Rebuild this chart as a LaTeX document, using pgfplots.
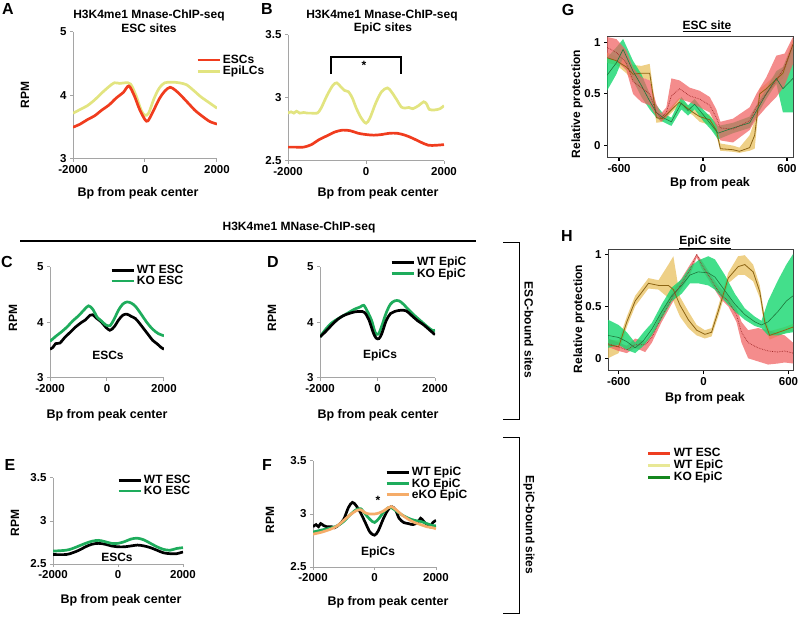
\documentclass[border=0pt]{standalone}
\usepackage{fontspec}
\setmainfont{Liberation Sans}
\usepackage{pgfplots}
\usepackage{pgfplotstable}
\pgfplotsset{compat=1.18}

\definecolor{cred}{RGB}{240,60,30}
\definecolor{cyel}{RGB}{226,228,128}
\definecolor{cgrn}{RGB}{30,172,92}
\definecolor{corg}{RGB}{245,172,105}
\definecolor{axgray}{RGB}{165,165,165}
\definecolor{bred}{RGB}{240,95,95}
\definecolor{byel}{RGB}{232,192,95}
\definecolor{bgrn}{RGB}{20,215,110}
\definecolor{lred}{RGB}{160,40,40}
\definecolor{lyel}{RGB}{140,100,20}
\definecolor{lgrn}{RGB}{30,120,60}
\definecolor{legred}{RGB}{238,62,32}
\definecolor{legyel}{RGB}{232,232,150}
\definecolor{leggrn}{RGB}{20,135,30}

% ---------- Panel A ----------
\pgfplotstableread{
x y
-2000 3.50
-1800 3.55
-1600 3.62
-1400 3.68
-1200 3.77
-1000 3.85
-800 3.96
-600 4.05
-450 4.15
-300 4.00
-150 3.78
0 3.62
80 3.60
200 3.72
400 3.95
550 4.07
700 4.13
850 4.08
1000 4.00
1200 3.88
1400 3.76
1600 3.67
1800 3.59
2000 3.55
}\Ared
\pgfplotstableread{
x y
-2000 3.72
-1800 3.78
-1600 3.84
-1400 3.93
-1200 4.04
-1000 4.14
-850 4.20
-700 4.19
-550 4.20
-400 4.18
-250 4.00
-100 3.76
0 3.69
100 3.72
250 3.95
400 4.12
550 4.20
750 4.21
950 4.20
1150 4.17
1350 4.08
1550 3.98
1800 3.88
2000 3.80
}\Ayel
% ---------- Panel B ----------
\pgfplotstableread{
x y
-2000 2.61
-1800 2.61
-1600 2.61
-1400 2.63
-1200 2.67
-1000 2.70
-800 2.73
-600 2.745
-400 2.74
-200 2.72
0 2.71
200 2.705
400 2.71
600 2.72
800 2.72
1000 2.705
1200 2.68
1400 2.65
1600 2.625
1800 2.625
2000 2.63
}\Bred
\pgfplotstableread{
x y
-2000 2.88
-1920 2.89
-1850 2.88
-1780 2.895
-1700 2.88
-1600 2.885
-1500 2.88
-1400 2.88
-1250 2.88
-1150 2.92
-1000 3.02
-850 3.10
-750 3.12
-650 3.09
-550 3.06
-450 3.05
-350 3.00
-250 2.92
-120 2.84
0 2.80
100 2.84
250 2.96
400 3.05
550 3.08
650 3.05
800 2.98
900 2.93
1000 2.92
1100 2.925
1200 2.915
1350 2.94
1480 2.97
1560 2.95
1620 2.91
1750 2.905
1900 2.915
2000 2.94
}\Byel
% ---------- Panel C ----------
\pgfplotstableread{
x y
-2000 3.52
-1900 3.55
-1800 3.62
-1650 3.63
-1500 3.72
-1300 3.82
-1100 3.92
-900 4.00
-750 4.05
-600 4.13
-500 4.14
-350 4.07
-200 4.01
-50 3.92
100 3.86
250 3.92
400 4.04
550 4.13
700 4.15
850 4.11
1000 4.07
1150 3.98
1300 3.88
1450 3.78
1600 3.68
1750 3.62
1900 3.55
2000 3.52
}\Cwt
\pgfplotstableread{
x y
-2000 3.66
-1800 3.75
-1600 3.83
-1400 3.92
-1200 4.03
-1000 4.12
-800 4.23
-650 4.30
-500 4.24
-350 4.10
-200 4.03
-50 3.96
100 3.94
250 4.06
400 4.22
550 4.33
700 4.37
850 4.35
1000 4.29
1200 4.15
1400 4.00
1600 3.88
1800 3.80
2000 3.76
}\Cko
% ---------- Panel D ----------
\pgfplotstableread{
x y
-2000 3.74
-1800 3.84
-1600 3.95
-1400 4.05
-1200 4.12
-1000 4.16
-800 4.19
-600 4.20
-450 4.18
-300 4.05
-150 3.82
-50 3.72
50 3.71
150 3.80
300 4.03
450 4.16
600 4.20
800 4.22
1000 4.21
1200 4.12
1400 4.03
1600 3.96
1800 3.87
2000 3.78
}\Dwt
\pgfplotstableread{
x y
-2000 3.74
-1800 3.88
-1600 3.99
-1400 4.06
-1200 4.12
-1000 4.18
-800 4.24
-600 4.28
-480 4.31
-350 4.20
-200 4.03
-80 3.82
30 3.79
150 3.94
300 4.17
450 4.33
600 4.39
750 4.39
900 4.33
1100 4.22
1300 4.12
1500 4.03
1700 3.94
1900 3.86
2000 3.86
}\Dko
% ---------- Panel E ----------
\pgfplotstableread{
x y
-2000 2.61
-1600 2.61
-1400 2.63
-1200 2.66
-1000 2.70
-800 2.73
-600 2.74
-400 2.73
-200 2.71
0 2.70
200 2.70
400 2.71
600 2.72
800 2.71
1000 2.69
1200 2.66
1400 2.63
1600 2.62
1800 2.62
2000 2.64
}\Ewt
\pgfplotstableread{
x y
-2000 2.65
-1600 2.66
-1400 2.68
-1200 2.71
-1000 2.74
-800 2.765
-600 2.775
-400 2.76
-200 2.74
0 2.74
200 2.76
400 2.79
600 2.80
800 2.78
1000 2.74
1200 2.70
1400 2.67
1600 2.66
1800 2.68
2000 2.69
}\Eko
% ---------- Panel F ----------
\pgfplotstableread{
x y
-2000 2.88
-1900 2.90
-1820 2.88
-1750 2.91
-1650 2.89
-1550 2.88
-1400 2.88
-1300 2.87
-1150 2.90
-1000 2.95
-850 3.06
-720 3.11
-600 3.08
-450 3.01
-300 2.92
-150 2.83
0 2.80
120 2.84
280 2.95
420 3.03
550 3.07
680 3.04
800 2.96
950 2.92
1100 2.91
1250 2.90
1400 2.92
1500 2.96
1600 2.93
1700 2.90
1800 2.88
1900 2.92
2000 2.94
}\Fwt
\pgfplotstableread{
x y
-2000 2.83
-1700 2.85
-1400 2.87
-1200 2.89
-1000 2.93
-800 2.99
-600 3.04
-450 3.05
-300 3.00
-150 2.95
0 2.92
150 2.96
300 3.02
450 3.06
550 3.06
700 3.03
900 2.99
1100 2.96
1300 2.94
1500 2.93
1700 2.91
1900 2.89
2000 2.89
}\Fko
\pgfplotstableread{
x y
-2000 2.81
-1700 2.83
-1400 2.86
-1200 2.89
-1000 2.94
-800 2.99
-600 3.03
-450 3.04
-300 3.01
-150 3.00
0 3.00
150 3.01
300 3.03
450 3.06
550 3.07
700 3.04
900 2.99
1100 2.95
1300 2.92
1500 2.90
1700 2.88
1900 2.87
2000 2.86
}\Feko
% ---------- Panel G: centre lines ----------
\pgfplotstableread{
x y
-686 0.95
-619 0.90
-548 0.80
-500 0.62
-440 0.56
-381 0.50
-333 0.32
-300 0.27
-262 0.32
-226 0.48
-167 0.55
-95 0.48
-24 0.45
48 0.39
95 0.27
124 0.17
214 0.16
333 0.24
381 0.37
452 0.50
524 0.63
583 0.76
643 0.98
}\Gred
\pgfplotstableread{
x y
-686 0.85
-619 0.82
-548 0.76
-500 0.69
-440 0.70
-381 0.70
-333 0.27
-290 0.26
-230 0.34
-170 0.42
-120 0.37
-70 0.32
-24 0.28
48 0.25
95 0.15
124 -0.03
214 -0.04
260 -0.055
333 -0.02
369 0.10
405 0.50
452 0.55
571 0.70
643 0.98
}\Gyel
\pgfplotstableread{
x y
-686 0.68
-619 0.80
-571 0.93
-500 0.72
-440 0.58
-381 0.43
-333 0.32
-286 0.27
-226 0.23
-155 0.41
-107 0.34
-60 0.40
0 0.30
60 0.20
107 0.12
214 0.17
333 0.22
452 0.50
524 0.65
571 0.55
643 0.65
}\Ggrn
% ---------- Panel G: bands (upper edge left to right, lower edge right to left) ----------
\pgfplotstableread{
x y
-686 1.05
-619 1.03
-548 0.92
-500 0.75
-440 0.66
-381 0.63
-333 0.40
-300 0.31
-262 0.37
-226 0.65
-167 0.63
-95 0.56
-24 0.53
48 0.47
95 0.35
124 0.23
214 0.26
333 0.37
381 0.50
452 0.66
524 0.87
583 0.89
643 1.05
643 0.79
583 0.58
524 0.47
452 0.37
381 0.26
333 0.15
214 0.03
124 0.05
95 0.19
48 0.32
-24 0.37
-95 0.42
-167 0.45
-226 0.35
-262 0.27
-300 0.23
-333 0.28
-381 0.39
-440 0.42
-500 0.50
-548 0.73
-619 0.82
-686 0.85
}\GredB
\pgfplotstableread{
x y
-686 0.90
-619 0.86
-548 0.82
-500 0.78
-440 0.77
-381 0.79
-333 0.32
-290 0.29
-230 0.37
-170 0.46
-120 0.40
-70 0.35
-24 0.32
48 0.30
95 0.20
124 0.02
214 0.00
260 -0.02
333 0.10
369 0.24
405 0.55
452 0.60
571 0.75
643 1.03
643 0.93
571 0.65
452 0.50
405 0.45
369 -0.03
333 -0.05
260 -0.07
214 -0.06
124 -0.05
95 0.10
48 0.20
-24 0.23
-70 0.29
-120 0.34
-170 0.39
-230 0.31
-290 0.23
-333 0.22
-381 0.63
-440 0.66
-500 0.62
-548 0.70
-619 0.78
-686 0.80
}\GyelB
\pgfplotstableread{
x y
-686 0.85
-619 0.95
-571 1.03
-500 0.82
-440 0.69
-381 0.50
-333 0.39
-286 0.31
-226 0.27
-155 0.47
-107 0.39
-60 0.45
0 0.35
60 0.27
107 0.19
214 0.22
333 0.28
452 0.55
524 0.72
571 0.76
643 0.98
643 0.32
571 0.32
524 0.60
452 0.45
333 0.17
214 0.12
107 0.06
60 0.15
0 0.24
-60 0.35
-107 0.29
-155 0.35
-226 0.19
-286 0.23
-333 0.27
-381 0.35
-440 0.47
-500 0.63
-571 0.85
-619 0.69
-686 0.53
}\GgrnB
% ---------- Panel H: centre lines ----------
\pgfplotstableread{
x y
-676 0.14
-601 0.11
-543 0.08
-484 0.13
-413 0.13
-366 0.20
-296 0.40
-214 0.60
-155 0.72
-96 0.85
-49 1.00
-14 0.90
56 0.75
115 0.62
174 0.55
232 0.42
268 0.25
315 0.15
385 0.10
456 0.07
526 0.06
573 0.07
632 0.05
}\Hred
\pgfplotstableread{
x y
-676 0.13
-601 0.11
-543 0.35
-484 0.55
-390 0.72
-319 0.70
-249 0.70
-214 0.66
-167 0.51
-108 0.37
-49 0.27
9 0.23
56 0.25
103 0.45
174 0.77
244 0.88
291 0.90
350 0.83
397 0.64
432 0.35
467 0.22
573 0.27
632 0.30
}\Hyel
\pgfplotstableread{
x y
-676 0.22
-601 0.20
-543 0.16
-484 0.10
-425 0.17
-366 0.28
-296 0.45
-225 0.60
-155 0.70
-96 0.80
-38 0.83
33 0.82
80 0.78
150 0.65
221 0.52
291 0.42
362 0.35
409 0.32
456 0.35
526 0.45
585 0.55
632 0.60
}\Hgrn
% ---------- Panel H: bands ----------
\pgfplotstableread{
x y
-676 0.19
-601 0.15
-543 0.12
-484 0.19
-413 0.16
-366 0.25
-296 0.45
-214 0.65
-155 0.77
-96 0.90
-49 1.00
-14 0.94
56 0.79
115 0.68
174 0.60
232 0.48
268 0.35
315 0.27
385 0.29
456 0.27
526 0.24
573 0.22
632 0.15
632 -0.05
573 -0.04
526 -0.05
456 -0.06
385 -0.03
315 0.00
268 0.15
232 0.35
174 0.50
115 0.58
56 0.71
-14 0.86
-49 0.97
-96 0.80
-155 0.67
-214 0.55
-296 0.35
-366 0.15
-413 0.06
-484 0.10
-543 0.05
-601 0.07
-676 0.11
}\HredB
\pgfplotstableread{
x y
-676 0.18
-601 0.17
-543 0.40
-484 0.60
-390 0.77
-319 0.75
-249 0.90
-214 0.98
-167 0.59
-108 0.45
-49 0.32
9 0.27
56 0.29
103 0.50
174 0.82
244 0.98
291 0.99
350 0.90
397 0.70
432 0.40
467 0.26
573 0.30
632 0.33
632 0.27
573 0.24
467 0.18
432 0.30
397 0.58
350 0.74
291 0.80
244 0.80
174 0.72
103 0.40
56 0.21
9 0.19
-49 0.22
-108 0.29
-167 0.40
-214 0.55
-249 0.58
-319 0.66
-390 0.67
-484 0.50
-543 0.30
-601 0.05
-676 0.00
}\HyelB
\pgfplotstableread{
x y
-676 0.37
-601 0.32
-543 0.25
-484 0.15
-425 0.25
-366 0.34
-296 0.52
-225 0.68
-155 0.76
-96 0.88
-38 0.94
33 0.98
80 0.95
150 0.80
221 0.62
291 0.48
362 0.40
409 0.36
456 0.55
526 0.75
585 0.90
632 1.00
632 0.25
585 0.24
526 0.22
456 0.22
409 0.29
362 0.31
291 0.37
221 0.45
150 0.55
80 0.66
33 0.70
-38 0.72
-96 0.72
-155 0.62
-225 0.55
-296 0.38
-366 0.22
-425 0.12
-484 0.05
-543 0.08
-601 0.13
-676 0.10
}\HgrnB

\newcommand\tf{\fontsize{11.5}{12}\selectfont\bfseries}
\newcommand\lf{\fontsize{12}{12}\selectfont\bfseries}
\newcommand\xf{\fontsize{12.5}{12.5}\selectfont\bfseries}
\newcommand\pf{\fontsize{16}{16}\selectfont\bfseries}

\pgfplotsset{
  rpm/.style={
    scale only axis, anchor=south west,
    axis x line*=bottom, axis y line*=left,
    axis line style={-, axgray, line width=1pt},
    tick style={axgray, line width=1pt},
    tick align=outside, major tick length=3pt,
    xmin=-2000, xmax=2000, xtick={-2000,0,2000},
    tick label style={font=\tf},
    /pgf/number format/assume math mode=true,
    /pgf/number format/1000 sep={},
    legend style={draw=none, fill=none, font=\lf, row sep=-3pt,
      anchor=north west, inner sep=0pt, legend cell align=left},
    legend image code/.code={\draw[##1, line width=2.8pt] (0pt,0pt) -- (22pt,0pt);},
  },
  rel/.style={
    scale only axis, anchor=south west,
    axis line style={black!75, line width=1pt},
    tick style={black, line width=1.2pt},
    tick align=outside, major tick length=3pt,
    xtick pos=left, ytick pos=left,
    xtick={-600,0,600}, ytick={0,0.5,1},
    tick label style={font=\tf},
    /pgf/number format/assume math mode=true,
    legend style={draw=none, fill=none, font=\lf, row sep=-2pt,
      anchor=north west, inner sep=0pt, legend cell align=left},
    legend image code/.code={\draw[##1, line width=2.8pt] (0pt,0pt) -- (22pt,0pt);},
  },
  cur/.style={line width=2.7pt, smooth, tension=0.5},
}

\begin{document}
\begin{tikzpicture}
\useasboundingbox (0pt,0pt) rectangle (800pt,616pt);

% A
\begin{axis}[rpm, at={(73pt,457pt)}, width=144pt, height=127pt,
  ymin=3, ymax=5, ytick={3,4,5}, reverse legend,
  legend style={at={(axis description cs:0.854,0.835)}}]
\addplot[cur, cyel] table {\Ayel}; \addlegendentry{EpiLCs}
\addplot[cur, cred] table {\Ared}; \addlegendentry{ESCs}
\end{axis}

% B
\begin{axis}[rpm, at={(288pt,455pt)}, width=156pt, height=126pt,
  ymin=2.5, ymax=3.5, ytick={2.5,3,3.5}]
\addplot[cur, cyel] table {\Byel};
\addplot[cur, cred] table {\Bred};
\draw[black, line width=1.5pt] (axis cs:-900,3.19) -- (axis cs:-900,3.325) -- (axis cs:900,3.325) -- (axis cs:900,3.19);
\node[font=\lf] at (axis cs:-50,3.255) {*};
\end{axis}

% C
\begin{axis}[rpm, at={(50pt,238pt)}, width=114pt, height=111pt,
  ymin=3, ymax=5, ytick={3,4,5},
  legend style={at={(axis description cs:0.526,1.036)}}]
\addplot[cur, black] table {\Cwt}; \addlegendentry{WT ESC}
\addplot[cur, cgrn] table {\Cko}; \addlegendentry{KO ESC}
\end{axis}

% D
\begin{axis}[rpm, at={(320pt,238pt)}, width=115pt, height=111pt,
  ymin=3, ymax=5, ytick={3,4,5}, reverse legend,
  legend style={at={(axis description cs:0.609,1.108)}}]
\addplot[cur, cgrn] table {\Dko}; \addlegendentry{KO EpiC}
\addplot[cur, black] table {\Dwt}; \addlegendentry{WT EpiC}
\end{axis}

% E
\begin{axis}[rpm, at={(53pt,52pt)}, width=130pt, height=86pt,
  ymin=2.5, ymax=3.5, ytick={2.5,3,3.5},
  legend style={at={(axis description cs:0.492,1.058)}}]
\addplot[cur, black] table {\Ewt}; \addlegendentry{WT ESC}
\addplot[cur, cgrn] table {\Eko}; \addlegendentry{KO ESC}
\end{axis}

% F
\begin{axis}[rpm, at={(313pt,49pt)}, width=123pt, height=106pt,
  ymin=2.5, ymax=3.5, ytick={2.5,3,3.5},
  legend style={at={(axis description cs:0.585,0.962)}}]
\addplot[cur, black] table {\Fwt}; \addlegendentry{WT EpiC}
\addplot[cur, cgrn] table {\Fko}; \addlegendentry{KO EpiC}
\addplot[cur, corg] table {\Feko}; \addlegendentry{eKO EpiC}
\end{axis}

% G
\begin{axis}[rel, at={(607pt,458pt)}, width=186pt, height=121pt,
  xmin=-686, xmax=643, ymin=-0.12, ymax=1.05]
\addplot[fill=byel, fill opacity=0.75, draw=none] table {\GyelB};
\addplot[fill=bgrn, fill opacity=0.8, draw=none] table {\GgrnB};
\addplot[fill=bred, fill opacity=0.72, draw=none] table {\GredB};
\addplot[lyel, line width=0.8pt] table {\Gyel};
\addplot[lgrn, line width=0.6pt] table {\Ggrn};
\addplot[lred, densely dotted, line width=0.7pt] table {\Gred};
\end{axis}

% H
\begin{axis}[rel, at={(608pt,245pt)}, width=185pt, height=121pt,
  xmin=-676, xmax=632, ymin=-0.122, ymax=1.04,
  legend style={at={(axis description cs:0.21,-0.62)}}]
\addplot[fill=byel, fill opacity=0.75, draw=none, forget plot] table {\HyelB};
\addplot[fill=bred, fill opacity=0.72, draw=none, forget plot] table {\HredB};
\addplot[fill=bgrn, fill opacity=0.8, draw=none, forget plot] table {\HgrnB};
\addplot[lyel, line width=0.8pt, forget plot] table {\Hyel};
\addplot[lgrn, line width=0.6pt, forget plot] table {\Hgrn};
\addplot[lred, densely dotted, line width=0.7pt, forget plot] table {\Hred};
\addlegendimage{legred}\addlegendentry{WT ESC}
\addlegendimage{legyel}\addlegendentry{WT EpiC}
\addlegendimage{leggrn}\addlegendentry{KO EpiC}
\end{axis}

% annotations (pixel coordinates, y downward)
\begin{scope}[shift={(0pt,616pt)}, x=1pt, y=-1pt]
  \node[font=\pf] at (8,9) {A};
  \node[font=\pf] at (267,9) {B};
  \node[font=\pf] at (568,10) {G};
  \node[font=\pf] at (7,262) {C};
  \node[font=\pf] at (273,262) {D};
  \node[font=\pf] at (567,236) {H};
  \node[font=\pf] at (10,465) {E};
  \node[font=\pf] at (267,465) {F};

  \node[font=\lf] at (149,15) {H3K4me1 Mnase-ChIP-seq};
  \node[font=\lf] at (149,28) {ESC sites};
  \node[font=\lf] at (382,15) {H3K4me1 Mnase-ChIP-seq};
  \node[font=\lf] at (383,28) {EpiC sites};
  \node[font=\lf] at (707,26) {\underline{ESC site}};
  \node[font=\lf] at (705,242) {\underline{EpiC site}};

  \node[font=\lf, rotate=90] at (25,95) {RPM};
  \node[font=\lf, rotate=90] at (13,318) {RPM};
  \node[font=\lf, rotate=90] at (272,318) {RPM};
  \node[font=\lf, rotate=90] at (15,523) {RPM};
  \node[font=\lf, rotate=90] at (270,520) {RPM};
  \node[font=\lf, rotate=90] at (577,104) {Relative protection};
  \node[font=\lf, rotate=90] at (579,319) {Relative protection};

  \node[font=\xf] at (138,193) {Bp from peak center};
  \node[font=\xf] at (378,193) {Bp from peak center};
  \node[font=\xf] at (107,415) {Bp from peak center};
  \node[font=\xf] at (378,415) {Bp from peak center};
  \node[font=\xf] at (121,600) {Bp from peak center};
  \node[font=\xf] at (388,602) {Bp from peak center};
  \node[font=\xf] at (710,183) {Bp from peak};
  \node[font=\xf] at (705,398) {Bp from peak};

  \node[font=\lf] at (108,355) {ESCs};
  \node[font=\lf] at (380,355) {EpiCs};
  \node[font=\lf] at (117,557) {ESCs};
  \node[font=\lf] at (378,552) {EpiCs};
  \node[font=\lf] at (378,500) {*};

  \node[font=\lf] at (299,227) {H3K4me1 MNase-ChIP-seq};
  \draw[black, line width=1.2pt] (20,241) -- (476,241);

  \draw[black, line width=1pt] (503,243) -- (519,243) -- (519,420) -- (503,420);
  \node[font=\lf, rotate=-90] at (529,330) {ESC-bound sites};
  \draw[black, line width=1pt] (503,438) -- (519,438) -- (519,613) -- (503,613);
  \node[font=\lf, rotate=-90] at (529,525) {EpiC-bound sites};
\end{scope}
\end{tikzpicture}
\end{document}
